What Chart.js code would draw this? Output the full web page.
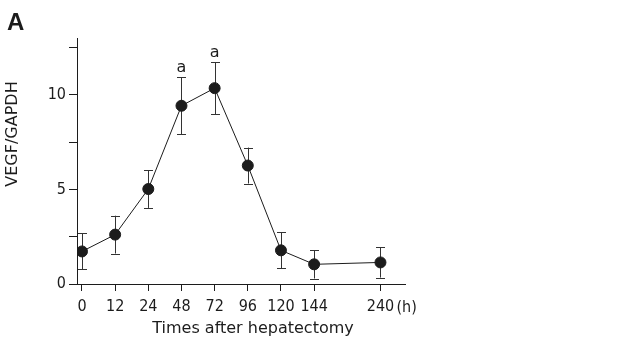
<!DOCTYPE html>
<html>
<head>
<meta charset="utf-8">
<script src="https://cdn.jsdelivr.net/npm/chart.js@4.4.1/dist/chart.umd.min.js"></script>
<style>
  html, body { margin: 0; padding: 0; background: #fff; }
</style>
</head>
<body>
<canvas id="vegfChart" width="619" height="349"></canvas>
<script>
// time points (h); the empty slot leaves the gap before 240 h
const timeLabels = ['0', '12', '24', '48', '72', '96', '120', '144', '', '240'];
const vegfMean = [1.72, 2.61, 5.02, 9.42, 10.35, 6.26, 1.78, 1.04, null, 1.14];
const vegfErr = [0.95, 1.0, 1.0, 1.5, 1.38, 0.95, 0.95, 0.75, null, 0.8];
const sigMarks = ['', '', '', 'a', 'a', '', '', '', '', ''];
const yLabelTicks = [0, 5, 10];

const ink = '#1c1c1c';
const tickFont = { family: '"DejaVu Sans Condensed", "DejaVu Sans", sans-serif', size: 16 };

const points = [];
timeLabels.forEach((lbl, i) => {
    if (vegfMean[i] !== null) points.push({ x: i, y: vegfMean[i] });
});

// --- error bars under the markers, "a" marks above them ---
const errorBars = {
    id: 'errorBars',
    beforeDatasetsDraw(chart) {
        const { ctx, scales: { x, y } } = chart;
        ctx.save();
        ctx.strokeStyle = '#333';
        ctx.lineWidth = 1;
        vegfMean.forEach((m, i) => {
            if (m === null) return;
            const px = Math.round(x.getPixelForValue(i)) + 0.5;
            const top = y.getPixelForValue(m + vegfErr[i]);
            const bot = y.getPixelForValue(m - vegfErr[i]);
            ctx.beginPath();
            ctx.moveTo(px, top); ctx.lineTo(px, bot);
            ctx.moveTo(px - 4.5, Math.round(top) + 0.5); ctx.lineTo(px + 4.5, Math.round(top) + 0.5);
            ctx.moveTo(px - 4.5, Math.round(bot) + 0.5); ctx.lineTo(px + 4.5, Math.round(bot) + 0.5);
            ctx.stroke();
        });
        ctx.restore();
    },
    afterDraw(chart) {
        const { ctx, chartArea, scales: { x, y } } = chart;
        ctx.save();
        ctx.fillStyle = ink;
        ctx.textAlign = 'center';
        ctx.textBaseline = 'alphabetic';
        ctx.font = '16px "DejaVu Sans", sans-serif';
        sigMarks.forEach((s, i) => {
            if (!s) return;
            const top = y.getPixelForValue(vegfMean[i] + vegfErr[i]);
            ctx.fillText(s, x.getPixelForValue(i), top - 5);
        });

        // panel letter
        ctx.textAlign = 'left';
        ctx.font = 'bold 24px "Liberation Sans", Arial, sans-serif';
        ctx.fillText('A', 7, 30);

        // axis titles
        ctx.font = '16px "DejaVu Sans", sans-serif';
        ctx.textAlign = 'center';
        ctx.textBaseline = 'middle';
        ctx.fillText('Times after hepatectomy', chartArea.left + 176, 329);
        ctx.save();
        ctx.translate(13, 134);
        ctx.rotate(-Math.PI / 2);
        ctx.fillText('VEGF/GAPDH', 0, 0);
        ctx.restore();

        // unit after the last tick
        ctx.textAlign = 'left';
        ctx.font = '16px "DejaVu Sans Condensed", "DejaVu Sans", sans-serif';
        ctx.fillText('(h)', x.getPixelForValue(timeLabels.length - 1) + 16, 308);
        ctx.restore();
    }
};

new Chart(document.getElementById('vegfChart'), {
    type: 'line',
    data: {
        datasets: [{
            data: points,
            borderColor: ink,
            borderWidth: 1,
            backgroundColor: ink,
            pointBackgroundColor: ink,
            pointBorderColor: ink,
            pointRadius: 5.5,
            tension: 0
        }]
    },
    options: {
        responsive: false,
        animation: false,
        devicePixelRatio: 1,
        layout: { padding: { left: 0, top: 38, right: 214, bottom: 0 } },
        plugins: { legend: { display: false }, tooltip: { enabled: false } },
        scales: {
            x: {
                type: 'linear',
                min: -0.15,
                max: 9.74,
                afterBuildTicks(scale) {
                    scale.ticks = timeLabels
                        .map((lbl, i) => ({ value: i, label: lbl }))
                        .filter(t => t.label !== '');
                },
                afterFit(scale) { scale.height = 65; },
                grid: { drawOnChartArea: false, drawTicks: true, tickLength: 7, color: ink },
                border: { color: ink, width: 1 },
                ticks: {
                    color: ink,
                    font: tickFont,
                    padding: 6,
                    maxRotation: 0,
                    autoSkip: false,
                    callback: (v) => timeLabels[v]
                }
            },
            y: {
                min: 0,
                max: 13,
                afterBuildTicks(scale) {
                    const t = [];
                    for (let v = 0; v <= 12.5; v += 2.5) t.push({ value: v });
                    scale.ticks = t;
                },
                afterFit(scale) { scale.width = 77; },
                grid: { drawOnChartArea: false, drawTicks: true, tickLength: 8, color: ink },
                border: { color: ink, width: 1 },
                ticks: {
                    color: ink,
                    font: tickFont,
                    padding: 3,
                    autoSkip: false,
                    callback: (v) => (yLabelTicks.includes(v) ? String(v) : '')
                }
            }
        }
    },
    plugins: [errorBars]
});
</script>
</body>
</html>
